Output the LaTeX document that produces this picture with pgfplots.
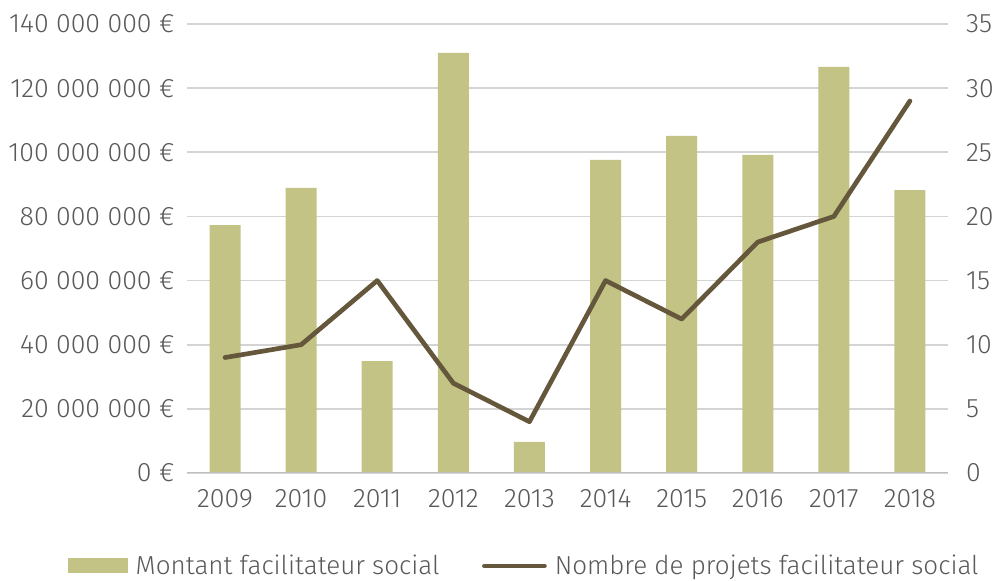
\documentclass[border=0pt]{standalone}
\usepackage{pgfplots}
\pgfplotsset{compat=1.18}
\usepackage{fontspec}
\setmainfont{Fira Sans Light}
\definecolor{barc}{HTML}{C3C386}
\definecolor{linec}{HTML}{65573B}
\definecolor{txt}{HTML}{595959}
\definecolor{gridc}{HTML}{D4D4D4}
\begin{document}
\begin{tikzpicture}[x=1pt,y=1pt]
\pgfplotsset{
  every axis/.style={
    scale only axis,
    width=570.75pt, height=336.75pt,
    xmin=-0.5, xmax=9.5,
    font=\fontsize{20}{22}\selectfont,
    tick label style={text=txt, font=\fontsize{20}{22}\selectfont},
    major tick length=0pt,
    axis line style={draw=none},
  }
}
\begin{axis}[
  ymin=0, ymax=140000000,
  ytick={0,20000000,40000000,60000000,80000000,100000000,120000000,140000000},
  yticklabels={0 €,20 000 000 €,40 000 000 €,60 000 000 €,80 000 000 €,100 000 000 €,120 000 000 €,140 000 000 €},
  scaled y ticks=false,
  xtick={0,...,9},
  xticklabels={2009,2010,2011,2012,2013,2014,2015,2016,2017,2018},
  ymajorgrids, grid style={gridc, line width=1.3pt},
  yticklabel style={anchor=east, xshift=-6pt},
  xticklabel style={yshift=-9pt},
  ybar, bar width=23.25pt,
  legend style={draw=none, at={(0.447,-0.207)}, anchor=center, legend columns=2,
    /tikz/every even column/.style={column sep=26pt},
    /tikz/every odd column/.style={column sep=0pt},
    nodes={inner xsep=6pt},
    text=txt, font=\fontsize{19.5}{22}\selectfont},
]
\addplot[fill=barc, draw=none, legend image code/.code={\fill[barc] (0pt,-5.6pt) rectangle (45pt,5.6pt);}] coordinates {(0,77300000) (1,88900000) (2,34900000) (3,131000000) (4,9700000) (5,97600000) (6,105100000) (7,99200000) (8,126600000) (9,88200000)};
\addlegendentry{Montant facilitateur social}
\addlegendimage{legend image code/.code={\draw[linec, line width=3.5pt, line cap=round] (0pt,0pt) -- (45pt,0pt);}}
\addlegendentry{Nombre de projets facilitateur social}
\draw[color=gridc!75!gray, line width=1.3pt] (axis cs:-0.5,0) -- (axis cs:9.5,0);
\end{axis}
\begin{axis}[
  ymin=0, ymax=35,
  axis y line*=right, axis x line=none,
  ytick={0,5,10,15,20,25,30,35},
  yticklabels={0,5,10,15,20,25,30,35},
  yticklabel style={anchor=west, xshift=10pt},
]
\addplot[linec, line width=3.5pt, line join=round, line cap=round] coordinates {(0,9) (1,10) (2,15) (3,7) (4,4) (5,15) (6,12) (7,18) (8,20) (9,29)};
\end{axis}
\pgfresetboundingbox
\path (-140.25pt,-81pt) rectangle (612.75pt,354.75pt);
\end{tikzpicture}
\end{document}
